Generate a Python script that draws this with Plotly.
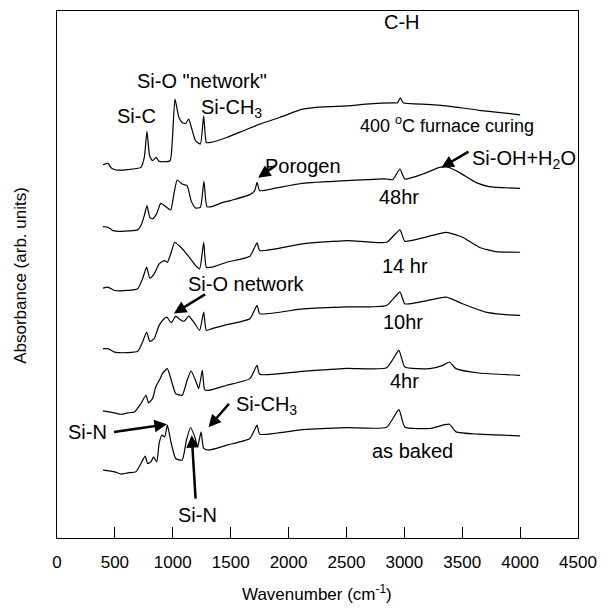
import plotly.graph_objects as go

# ---------------- data (wavenumber in cm^-1, absorbance in arb. units, offset stacked) ----------------
wn_400C = [397, 440, 469, 512, 611, 725, 754, 777, 800, 825, 856, 882, 976, 996, 1019, 1053, 1081, 1110,
           1138, 1161, 1196, 1238, 1267, 1290, 1324, 1466, 1609, 1751, 1922, 2121, 2300, 2506, 2700, 2900,
           2940, 2965, 2990, 3200, 3361, 3646, 4000]
ab_400C = [374, 375.3, 370.7, 368.7, 369, 371.3, 381.3, 407.3, 383, 378, 381.3, 377.3, 378, 398, 439.7, 421.3,
           416.3, 415.3, 419.7, 411.3, 398, 394.7, 423, 396.3, 396.3, 401.3, 408, 414.7, 421.3, 429.7, 432, 433,
           435, 436, 436, 441, 436, 434.5, 433, 428.5, 424]

wn_48hr = [397, 440, 483, 555, 697, 725, 754, 777, 802, 825, 860, 896, 939, 982, 1010, 1038, 1081, 1124, 1158,
           1196, 1238, 1269, 1295, 1338, 1409, 1495, 1666, 1708, 1728, 1751, 1893, 2121, 2506, 2847, 2900, 2962,
           3004, 3161, 3304, 3361, 3474, 3617, 3731, 4000]
ab_48hr = [312, 311.3, 308, 307.3, 308.7, 313, 323, 333, 321.3, 319.7, 324.7, 335.3, 332, 328.7, 344.7, 358.7,
           354.7, 353, 338, 330.7, 331.3, 357.3, 332, 332, 335.3, 338, 344, 348, 356.3, 348, 350.7, 355.3, 358,
           359.7, 359, 369.7, 359.7, 364.7, 371.3, 372, 366.3, 356.3, 352, 350.3]

wn_14hr = [397, 440, 497, 611, 697, 739, 774, 802, 839, 882, 925, 953, 987, 1016, 1053, 1096, 1153, 1196, 1232,
           1267, 1290, 1338, 1466, 1666, 1728, 1751, 2121, 2506, 2847, 2962, 3004, 3161, 3361, 3503, 3646, 3788,
           4000]
ab_14hr = [250.3, 251.3, 248, 248, 249.7, 259.7, 271.3, 260.3, 264.7, 274.7, 278, 276.3, 286.3, 296.3, 293, 288,
           279.7, 273, 269.7, 296.3, 271.3, 271.3, 276.3, 282.3, 295.7, 288, 294.7, 298, 296.3, 308.7, 297.3,
           300.7, 306.3, 301.3, 291.3, 287, 286.3]

wn_10hr = [397, 440, 497, 611, 697, 739, 774, 802, 839, 882, 925, 948, 987, 1025, 1061, 1096, 1138, 1181, 1232,
           1267, 1290, 1338, 1466, 1666, 1728, 1751, 2121, 2506, 2847, 2962, 3004, 3161, 3361, 3503, 3702, 3850,
           4000]
ab_10hr = [189.7, 189.7, 186.3, 185.7, 187, 196.3, 206.3, 197, 199.7, 213, 219.7, 221.3, 215.7, 222.3, 219, 217,
           222.3, 216.3, 208, 226.3, 208, 209.7, 213.7, 219.7, 233, 224.7, 229.5, 231.5, 233, 246.3, 234.7, 237,
           241.3, 234.7, 226.3, 224, 223]

wn_4hr = [397, 497, 555, 611, 668, 725, 768, 791, 825, 853, 891, 910, 953, 987, 1025, 1081, 1124, 1158, 1196,
          1224, 1255, 1275, 1309, 1466, 1666, 1728, 1751, 2121, 2506, 2847, 2953, 3004, 3219, 3333, 3389, 3446,
          3646, 4000]
ab_4hr = [127.3, 125.3, 124, 125.3, 126.3, 134.7, 143, 135.3, 139.7, 151.3, 159.7, 164.7, 169.7, 158, 144.7, 143,
          158, 167.3, 158, 149.7, 168, 148.7, 148, 153, 159.7, 173, 164, 167, 170, 170.5, 188, 171.3, 169.7, 173,
          176.3, 169.7, 165.3, 163]

wn_baked = [397, 497, 555, 611, 682, 725, 762, 782, 811, 834, 862, 882, 905, 930, 953, 987, 1025, 1081, 1118,
            1153, 1190, 1215, 1244, 1267, 1309, 1466, 1666, 1728, 1751, 2121, 2506, 2847, 2953, 3004, 3219, 3389,
            3446, 3646, 4000]
ab_baked = [68, 66.3, 64, 65.3, 66.3, 74.7, 82, 74.7, 76.3, 81.3, 76.3, 94.7, 103, 101.3, 113, 94.7, 79.7, 78, 98,
            110.7, 101.3, 91.3, 106.3, 89.7, 88, 93, 99.7, 113, 104, 108.5, 110.5, 111, 128.7, 111.3, 109.7, 114,
            106.3, 104, 102.3]

x_ticks = [0, 500, 1000, 1500, 2000, 2500, 3000, 3500, 4000, 4500]

series = [(wn_400C, ab_400C), (wn_48hr, ab_48hr), (wn_14hr, ab_14hr),
          (wn_10hr, ab_10hr), (wn_4hr, ab_4hr), (wn_baked, ab_baked)]

FONT = "Liberation Sans, Arial, sans-serif"

fig = go.Figure()
for wx, ay in series:
    fig.add_trace(go.Scatter(x=wx, y=ay, mode="lines",
                             line=dict(color="black", width=1.2, shape="spline", smoothing=0.5),
                             showlegend=False, hoverinfo="skip"))

# pixel -> data helpers for annotation placement
L, R, T, B = 57, 583, 10, 538
def X(px):
    return (px - L) / (R - L) * 4500
def Y(py):
    return (B - py) / (B - T) * 528
def PX(px):
    return (px - L) / (R - L)
def PY(py):
    return (B - py) / (B - T)

labels = [
    ("Si-C", 137.5, 115, 20),
    ('Si-O "network"', 203, 80, 20),
    ("Si-CH<sub>3</sub>", 233, 108, 20),
    ("C-H", 405, 21, 20),
    ("400 <sup>o</sup>C furnace curing", 451, 124, 18),
    ("Porogen", 305, 165, 20),
    ("Si-OH+H<sub>2</sub>O", 528, 159, 20),
    ("48hr", 402, 196, 20),
    ("14 hr", 408, 265, 20),
    ("10hr", 406, 322, 20),
    ("4hr", 408, 381, 20),
    ("as baked", 416, 451, 20),
    ("Si-O network", 248, 284, 20),
    ("Si-CH<sub>3</sub>", 269, 405, 20),
    ("Si-N", 88, 432, 20),
    ("Si-N", 199, 515, 20),
]
annotations = []
for txt, px, py, fs in labels:
    annotations.append(dict(text=txt, x=X(px), y=Y(py), xref="x", yref="y", showarrow=False,
                            xanchor="center", yanchor="middle",
                            font=dict(family=FONT, size=fs, color="black")))

arrows = [
    ((279, 164), (260, 177)),
    ((474, 150), (445, 167)),
    ((208, 293), (175, 313)),
    ((232, 402), (210, 427)),
    ((113, 432), (168, 424)),
    ((197, 500), (193, 435)),
]
for (tx, ty), (hx, hy) in arrows:
    annotations.append(dict(text="", x=X(hx), y=Y(hy), ax=X(tx), ay=Y(ty), xref="x", yref="y",
                            axref="x", ayref="y", showarrow=True, arrowhead=2, arrowsize=1,
                            arrowwidth=2.5, arrowcolor="black", standoff=0, startstandoff=0,
                            font=dict(family=FONT, size=12)))

annotations.append(dict(text="Absorbance (arb. units)", x=PX(20), y=PY(275), xref="paper", yref="paper",
                        showarrow=False, textangle=-90, font=dict(family=FONT, size=17, color="black"),
                        xanchor="center", yanchor="middle"))
annotations.append(dict(text="Wavenumber (cm<sup>-1</sup>)", x=PX(319), y=PY(593), xref="paper", yref="paper",
                        showarrow=False, font=dict(family=FONT, size=17, color="black"),
                        xanchor="center", yanchor="middle"))

fig.update_layout(
    width=607, height=610,
    margin=dict(l=L, r=607 - R, t=T, b=610 - B),
    paper_bgcolor="white", plot_bgcolor="white",
    font=dict(family=FONT, size=17, color="black"),
    annotations=annotations,
    xaxis=dict(range=[0, 4500], tickvals=x_ticks, ticktext=[str(v) for v in x_ticks],
               ticks="inside", ticklen=11, tickwidth=1, tickcolor="black",
               showline=True, linecolor="black", linewidth=1, mirror=True,
               showgrid=False, zeroline=False, ticklabelstandoff=9,
               tickfont=dict(family=FONT, size=17)),
    yaxis=dict(range=[0, 528], showticklabels=False, ticks="",
               showline=True, linecolor="black", linewidth=1, mirror=True,
               showgrid=False, zeroline=False),
)

fig.write_html("out.html")
